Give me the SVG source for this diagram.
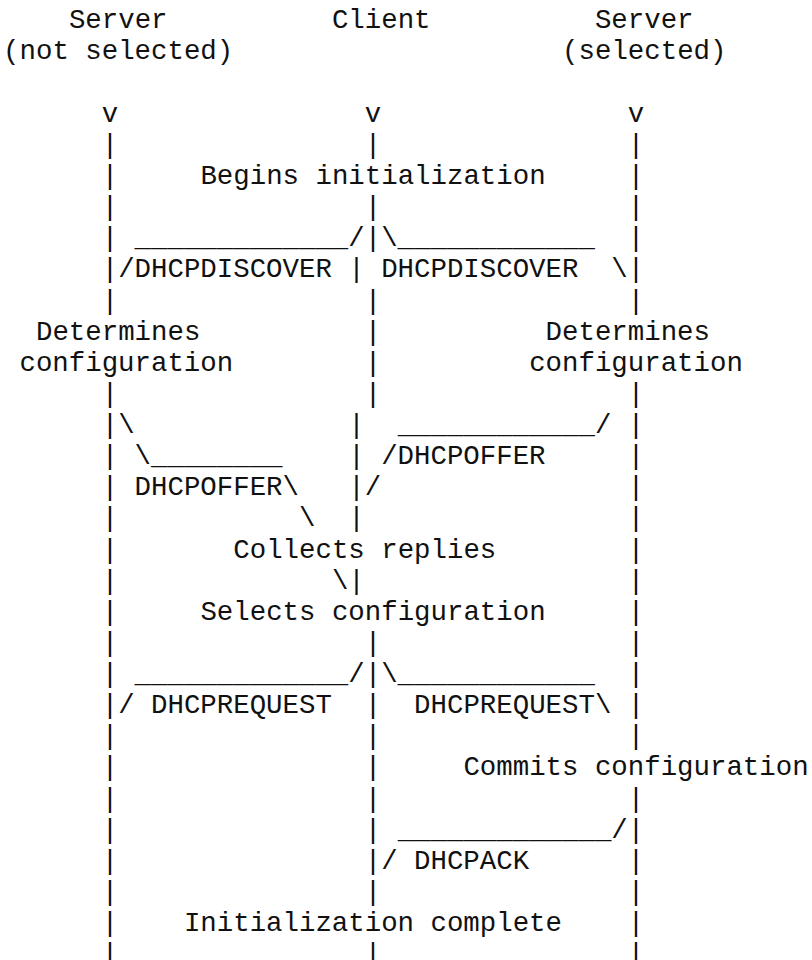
<svg xmlns="http://www.w3.org/2000/svg" width="812" height="960" viewBox="0 0 812 960">
  <style>
    text { font-family: "Liberation Mono", "Courier New", monospace; font-size: 27.4px; fill: #111; white-space: pre; }
  </style>
  <rect width="812" height="960" fill="#fff"/>

  <!-- Participants and their local steps (monospace grid: col c -> x = 3.1 + 16.44c, row r -> y = 28.3 + 31.13r) -->
  <g id="server-not-selected">
    <text x="68.9" y="28.3">Server</text>
    <text x="3.1" y="59.4">(not selected)</text>
    <text x="36.0" y="339.6">Determines</text>
    <text x="19.5" y="370.7">configuration</text>
  </g>

  <g id="client">
    <text x="331.9" y="28.3">Client</text>
    <text x="200.4" y="184.0">Begins initialization</text>
    <text x="233.3" y="557.5">Collects replies</text>
    <text x="200.4" y="619.8">Selects configuration</text>
    <text x="183.9" y="931.1">Initialization complete</text>
  </g>

  <g id="server-selected">
    <text x="594.9" y="28.3">Server</text>
    <text x="562.1" y="59.4">(selected)</text>
    <text x="545.6" y="339.6">Determines</text>
    <text x="529.2" y="370.7">configuration</text>
    <text x="463.4" y="775.4">Commits configuration</text>
  </g>

  <g id="connectors">
    <!-- lifelines -->
    <g id="lifeline-left">
      <text x="101.7" y="121.7">v</text>
      <text><tspan x="101.7" y="152.8">|</tspan><tspan x="101.7" y="184.0">|</tspan><tspan x="101.7" y="215.1">|</tspan><tspan x="101.7" y="246.2">|</tspan><tspan x="101.7" y="277.3">|</tspan><tspan x="101.7" y="308.5">|</tspan><tspan x="101.7" y="401.9">|</tspan><tspan x="101.7" y="433.0">|</tspan><tspan x="101.7" y="464.1">|</tspan><tspan x="101.7" y="495.3">|</tspan><tspan x="101.7" y="526.4">|</tspan><tspan x="101.7" y="557.5">|</tspan><tspan x="101.7" y="588.6">|</tspan><tspan x="101.7" y="619.8">|</tspan><tspan x="101.7" y="650.9">|</tspan><tspan x="101.7" y="682.0">|</tspan><tspan x="101.7" y="713.2">|</tspan><tspan x="101.7" y="744.3">|</tspan><tspan x="101.7" y="775.4">|</tspan><tspan x="101.7" y="806.6">|</tspan><tspan x="101.7" y="837.7">|</tspan><tspan x="101.7" y="868.8">|</tspan><tspan x="101.7" y="899.9">|</tspan><tspan x="101.7" y="931.1">|</tspan><tspan x="101.7" y="962.2">|</tspan></text>
    </g>
    <g id="lifeline-client">
      <text x="364.8" y="121.7">v</text>
      <text><tspan x="364.8" y="152.8">|</tspan><tspan x="364.8" y="215.1">|</tspan><tspan x="364.8" y="246.2">|</tspan><tspan x="348.3" y="277.3">|</tspan><tspan x="364.8" y="308.5">|</tspan><tspan x="364.8" y="339.6">|</tspan><tspan x="364.8" y="370.7">|</tspan><tspan x="364.8" y="401.9">|</tspan><tspan x="348.3" y="433.0">|</tspan><tspan x="348.3" y="464.1">|</tspan><tspan x="348.3" y="495.3">|</tspan><tspan x="348.3" y="526.4">|</tspan><tspan x="348.3" y="588.6">|</tspan><tspan x="364.8" y="650.9">|</tspan><tspan x="364.8" y="682.0">|</tspan><tspan x="364.8" y="713.2">|</tspan><tspan x="364.8" y="744.3">|</tspan><tspan x="364.8" y="775.4">|</tspan><tspan x="364.8" y="806.6">|</tspan><tspan x="364.8" y="837.7">|</tspan><tspan x="364.8" y="868.8">|</tspan><tspan x="364.8" y="899.9">|</tspan><tspan x="364.8" y="962.2">|</tspan></text>
    </g>
    <g id="lifeline-right">
      <text x="627.8" y="121.7">v</text>
      <text><tspan x="627.8" y="152.8">|</tspan><tspan x="627.8" y="184.0">|</tspan><tspan x="627.8" y="215.1">|</tspan><tspan x="627.8" y="246.2">|</tspan><tspan x="627.8" y="277.3">|</tspan><tspan x="627.8" y="308.5">|</tspan><tspan x="627.8" y="401.9">|</tspan><tspan x="627.8" y="433.0">|</tspan><tspan x="627.8" y="464.1">|</tspan><tspan x="627.8" y="495.3">|</tspan><tspan x="627.8" y="526.4">|</tspan><tspan x="627.8" y="557.5">|</tspan><tspan x="627.8" y="588.6">|</tspan><tspan x="627.8" y="619.8">|</tspan><tspan x="627.8" y="650.9">|</tspan><tspan x="627.8" y="682.0">|</tspan><tspan x="627.8" y="713.2">|</tspan><tspan x="627.8" y="744.3">|</tspan><tspan x="627.8" y="806.6">|</tspan><tspan x="627.8" y="837.7">|</tspan><tspan x="627.8" y="868.8">|</tspan><tspan x="627.8" y="899.9">|</tspan><tspan x="627.8" y="931.1">|</tspan><tspan x="627.8" y="962.2">|</tspan></text>
    </g>

    <!-- client broadcasts DHCPDISCOVER to both servers -->
    <g id="msg-discover">
      <text x="134.6" y="246.2">_____________/</text>
      <text x="381.2" y="246.2">\____________</text>
      <text x="118.2" y="277.3">/DHCPDISCOVER</text>
      <text x="381.2" y="277.3">DHCPDISCOVER  \</text>
    </g>

    <!-- DHCPOFFER from the non-selected server -->
    <g id="msg-offer-left">
      <text x="118.2" y="433.0">\</text>
      <text x="134.6" y="464.1">\________</text>
      <text x="134.6" y="495.3">DHCPOFFER\</text>
      <text x="299.0" y="526.4">\</text>
      <text x="331.9" y="588.6">\</text>
    </g>

    <!-- DHCPOFFER from the selected server -->
    <g id="msg-offer-right">
      <text x="397.7" y="433.0">____________/</text>
      <text x="381.2" y="464.1">/DHCPOFFER</text>
      <text x="364.8" y="495.3">/</text>
    </g>

    <!-- client broadcasts DHCPREQUEST -->
    <g id="msg-request">
      <text x="134.6" y="682.0">_____________/</text>
      <text x="381.2" y="682.0">\____________</text>
      <text x="118.2" y="713.2">/ DHCPREQUEST</text>
      <text x="414.1" y="713.2">DHCPREQUEST\</text>
    </g>

    <!-- DHCPACK from the selected server -->
    <g id="msg-ack">
      <text x="397.7" y="837.7">_____________/</text>
      <text x="381.2" y="868.8">/ DHCPACK</text>
    </g>
  </g>
</svg>
